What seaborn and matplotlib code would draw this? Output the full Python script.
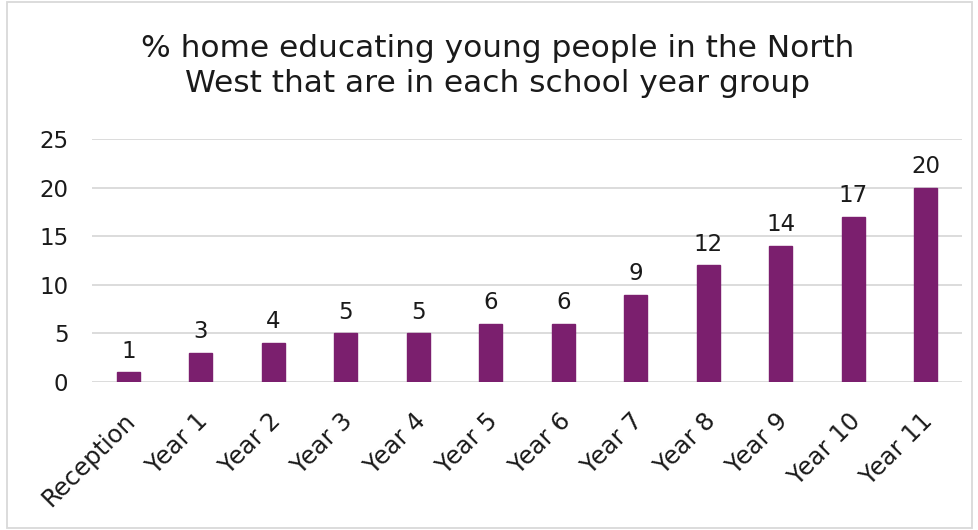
import matplotlib
matplotlib.use("Agg")
import matplotlib.pyplot as plt
import matplotlib.transforms as mtransforms
import seaborn as sns
import pandas as pd
from matplotlib.patches import Rectangle

categories = ["Reception", "Year 1", "Year 2", "Year 3", "Year 4", "Year 5",
              "Year 6", "Year 7", "Year 8", "Year 9", "Year 10", "Year 11"]
values = [1, 3, 4, 5, 5, 6, 6, 9, 12, 14, 17, 20]
yticks = [0, 5, 10, 15, 20, 25]
title = "% home educating young people in the North\nWest that are in each school year group"

sns.set_theme(style="white")
plt.rcParams['font.family'] = ['DejaVu Sans']

df = pd.DataFrame({"cat": categories, "val": values})
fig = plt.figure(figsize=(9.79, 5.30), dpi=100)
ax = fig.add_axes([0.094, 0.2792, 0.8886, 0.4585])
sns.barplot(data=df, x="cat", y="val", color="#7B1F6E", width=0.32, ax=ax,
            saturation=1, edgecolor="#7B1F6E")
ax.set_ylim(0, 25)
ax.set_xlim(-0.5, len(categories) - 0.5)
ax.set_yticks(yticks)
ax.set_yticklabels([str(t) for t in yticks], fontsize=16.5, color="#1a1a1a")
ax.set_xticks(range(len(categories)))
ax.set_xticklabels(categories, rotation=45, ha="right", rotation_mode="anchor",
                   fontsize=17.5, color="#1a1a1a")
ax.tick_params(axis="x", length=0, pad=19)
ax.tick_params(axis="y", length=0, pad=17)
off = mtransforms.ScaledTranslation(-5 / 100, 0, fig.dpi_scale_trans)
for lab in ax.get_xticklabels():
    lab.set_transform(lab.get_transform() + off)
ax.set_xlabel("")
ax.set_ylabel("")
ax.yaxis.grid(True, color="#d9d9d9", linewidth=1.3)
ax.set_axisbelow(True)
for s in ax.spines.values():
    s.set_visible(False)
for i, v in enumerate(values):
    ax.annotate(str(v), (i, v), xytext=(0, 7), textcoords="offset points",
                ha="center", va="bottom", fontsize=16.5, color="#1a1a1a")
fig.text(0.508, 0.875, title, ha="center", va="center", fontsize=22.5,
         color="#1a1a1a", linespacing=1.25)
fig.patches.append(Rectangle((0.007, 0.003), 0.986, 0.994, transform=fig.transFigure,
                             fill=False, edgecolor="#d9d9d9", linewidth=1.3))
fig.savefig("out.png", dpi=100)
